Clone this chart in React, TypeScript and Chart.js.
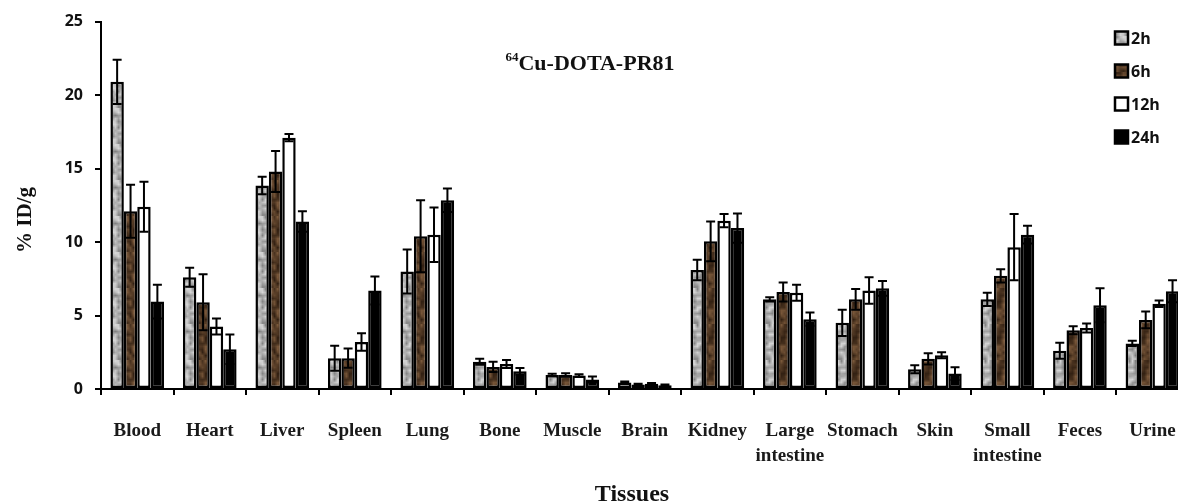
import { useEffect, useRef } from 'react';
import { Chart, registerables } from 'chart.js';

Chart.register(...registerables);

// Biodistribution of 64Cu-DOTA-PR81 (%ID/g, mean ± SD) at four time points
const tissues: (string | string[])[] = [
  'Blood', 'Heart', 'Liver', 'Spleen', 'Lung', 'Bone', 'Muscle', 'Brain', 'Kidney',
  ['Large', 'intestine'], 'Stomach', 'Skin', ['Small', 'intestine'], 'Feces', 'Urine',
];
const timePoints = ['2h', '6h', '12h', '24h'];

const uptake2h = [20.9, 7.6, 13.85, 2.1, 8.0, 1.85, 0.95, 0.45, 8.1, 6.1, 4.5, 1.35, 6.1, 2.6, 3.1];
const sd2h = [1.5, 0.65, 0.6, 0.85, 1.5, 0.2, 0.08, 0.06, 0.7, 0.15, 0.9, 0.27, 0.45, 0.55, 0.18];
const uptake6h = [12.1, 5.9, 14.8, 2.1, 10.4, 1.5, 0.95, 0.3, 10.05, 6.6, 6.1, 2.05, 7.7, 4.0, 4.7];
const sd6h = [1.8, 1.9, 1.4, 0.65, 2.45, 0.35, 0.12, 0.06, 1.35, 0.65, 0.7, 0.38, 0.45, 0.27, 0.57];
const uptake12h = [12.4, 4.25, 17.1, 3.2, 10.5, 1.7, 0.92, 0.35, 11.45, 6.55, 6.7, 2.3, 9.65, 4.15, 5.8];
const sd12h = [1.7, 0.55, 0.25, 0.6, 1.85, 0.27, 0.08, 0.06, 0.45, 0.55, 0.9, 0.2, 2.25, 0.3, 0.22];
const uptake24h = [5.95, 2.7, 11.4, 6.7, 12.85, 1.2, 0.65, 0.25, 10.95, 4.75, 6.85, 1.05, 10.5, 5.7, 6.65];
const sd24h = [1.15, 1.0, 0.7, 0.95, 0.8, 0.23, 0.2, 0.06, 1.0, 0.45, 0.5, 0.43, 0.6, 1.15, 0.75];

const yTicks = [0, 5, 10, 15, 20, 25];

const uptakeSets = [uptake2h, uptake6h, uptake12h, uptake24h];
const sdSets = [sd2h, sd6h, sd12h, sd24h];

const CANVAS_W = 1200;
const CANVAS_H = 503;

const serif = '"Liberation Serif", "Times New Roman", serif';
const sans = '"Open Sans", "Liberation Sans", sans-serif';

// Deterministic hash used for the mottled bar textures
function hash(i: number, j: number, seed: number) {
  const s = Math.sin(i * 12.9898 + j * 78.233 + seed * 37.719) * 43758.5453;
  return s - Math.floor(s);
}

function makeTexture(dark: number[], light: number[], seed: number): CanvasPattern | string {
  const n = 12;
  const small = document.createElement('canvas');
  small.width = n;
  small.height = n;
  const sctx = small.getContext('2d');
  if (!sctx) return `rgb(${light.join(',')})`;
  const img = sctx.createImageData(n, n);
  for (let j = 0; j < n; j++) {
    for (let i = 0; i < n; i++) {
      const t = hash(i, j, seed);
      const k = (j * n + i) * 4;
      for (let c = 0; c < 3; c++) img.data[k + c] = Math.round(dark[c] + (light[c] - dark[c]) * t);
      img.data[k + 3] = 255;
    }
  }
  sctx.putImageData(img, 0, 0);
  const big = document.createElement('canvas');
  big.width = n * 3;
  big.height = n * 3;
  const bctx = big.getContext('2d');
  if (!bctx) return `rgb(${light.join(',')})`;
  bctx.imageSmoothingEnabled = true;
  bctx.drawImage(small, 0, 0, n * 3, n * 3);
  return bctx.createPattern(big, 'repeat') || `rgb(${light.join(',')})`;
}

export default function App() {
  const canvasRef = useRef<HTMLCanvasElement | null>(null);

  useEffect(() => {
    const canvas = canvasRef.current;
    if (!canvas) return;

    const fills: (CanvasPattern | string)[] = [
      makeTexture([125, 125, 125], [218, 218, 218], 1),
      makeTexture([50, 32, 18], [122, 88, 58], 2),
      '#ffffff',
      '#000000',
    ];

    const errorBars = {
      id: 'errorBars',
      afterDatasetsDraw(chart: any) {
        const { ctx } = chart;
        const yScale = chart.scales.y;
        ctx.save();
        ctx.strokeStyle = '#000';
        ctx.lineWidth = 2;
        chart.data.datasets.forEach((_ds: any, i: number) => {
          const meta = chart.getDatasetMeta(i);
          meta.data.forEach((bar: any, j: number) => {
            const v = uptakeSets[i][j];
            const e = sdSets[i][j];
            const x = bar.x;
            const yHi = yScale.getPixelForValue(v + e);
            const yLo = yScale.getPixelForValue(Math.max(0, v - e));
            const cap = 4.5;
            ctx.beginPath();
            ctx.moveTo(x, yLo);
            ctx.lineTo(x, yHi);
            ctx.moveTo(x - cap, yHi);
            ctx.lineTo(x + cap, yHi);
            ctx.moveTo(x - cap, yLo);
            ctx.lineTo(x + cap, yLo);
            ctx.stroke();
          });
        });
        ctx.restore();
      },
    };

    const decorations = {
      id: 'decorations',
      afterDraw(chart: any) {
        const { ctx } = chart;
        ctx.save();
        ctx.fillStyle = '#111';

        // Title with superscript mass number
        ctx.textBaseline = 'alphabetic';
        ctx.textAlign = 'left';
        const sup = '64';
        const main = 'Cu-DOTA-PR81';
        ctx.font = `bold 13px ${serif}`;
        const wSup = ctx.measureText(sup).width;
        ctx.font = `bold 22px ${serif}`;
        const wMain = ctx.measureText(main).width;
        const startX = 590 - (wSup + wMain) / 2;
        ctx.font = `bold 13px ${serif}`;
        ctx.fillText(sup, startX, 61);
        ctx.font = `bold 22px ${serif}`;
        ctx.fillText(main, startX + wSup, 70);

        // Y axis title
        ctx.save();
        ctx.translate(26, 220);
        ctx.rotate(-Math.PI / 2);
        ctx.textAlign = 'center';
        ctx.textBaseline = 'middle';
        ctx.font = `bold 21px ${serif}`;
        ctx.fillText('% ID/g', 0, 0);
        ctx.restore();

        // X axis title
        ctx.textAlign = 'center';
        ctx.textBaseline = 'alphabetic';
        ctx.font = `bold 24px ${serif}`;
        ctx.fillText('Tissues', 632, 501);

        // Legend
        const rows = [38, 71, 104, 137];
        timePoints.forEach((name, i) => {
          const cy = rows[i];
          const bx = 1115;
          const size = 13;
          ctx.fillStyle = fills[i] as any;
          ctx.fillRect(bx, cy - size / 2, size, size);
          ctx.strokeStyle = '#000';
          ctx.lineWidth = 2.5;
          ctx.strokeRect(bx, cy - size / 2, size, size);
          ctx.fillStyle = '#111';
          ctx.font = `bold 16px ${sans}`;
          ctx.textAlign = 'left';
          ctx.textBaseline = 'middle';
          ctx.fillText(name, 1131, cy + 1);
        });
        ctx.restore();
      },
    };

    const chart = new Chart(canvas, {
      type: 'bar',
      data: {
        labels: tissues,
        datasets: timePoints.map((tp, i) => ({
          label: tp,
          data: uptakeSets[i],
          backgroundColor: fills[i] as any,
          borderColor: '#000',
          borderWidth: 2.5,
          borderSkipped: false,
        })),
      },
      options: {
        responsive: false,
        animation: false,
        layout: { padding: { left: 0, right: 11, top: 21, bottom: 0 } },
        datasets: { bar: { categoryPercentage: 0.74, barPercentage: 1 } },
        plugins: {
          legend: { display: false },
          title: { display: false },
          tooltip: { enabled: false },
        },
        scales: {
          x: {
            grid: {
              drawOnChartArea: false,
              drawTicks: true,
              tickLength: 6,
              color: '#000',
              lineWidth: 2,
              offset: true,
            },
            border: { color: '#000', width: 2 },
            ticks: {
              font: { family: serif, size: 19, weight: 'bold', lineHeight: 1.3 },
              color: '#1a1a1a',
              padding: 24,
              maxRotation: 0,
              minRotation: 0,
              autoSkip: false,
            },
            afterFit: (scale: any) => {
              scale.height = 114;
            },
          },
          y: {
            min: yTicks[0],
            max: yTicks[yTicks.length - 1],
            afterBuildTicks: (scale: any) => {
              scale.ticks = yTicks.map((v) => ({ value: v }));
            },
            grid: {
              drawOnChartArea: false,
              drawTicks: true,
              tickLength: 6,
              color: '#000',
              lineWidth: 2,
            },
            border: { color: '#000', width: 2 },
            ticks: {
              font: { family: sans, size: 16, weight: 'bold' },
              color: '#111',
              padding: 12,
            },
            afterFit: (scale: any) => {
              scale.width = 101;
            },
          },
        },
      },
      plugins: [errorBars, decorations],
    });

    return () => {
      chart.destroy();
    };
  }, []);

  return (
    <div
      style={{
        position: 'fixed',
        left: 0,
        top: 0,
        width: 1178,
        height: 503,
        overflow: 'hidden',
        background: '#fff',
      }}
    >
      <canvas
        ref={canvasRef}
        width={CANVAS_W}
        height={CANVAS_H}
        style={{ width: CANVAS_W, height: CANVAS_H, display: 'block' }}
      />
    </div>
  );
}
